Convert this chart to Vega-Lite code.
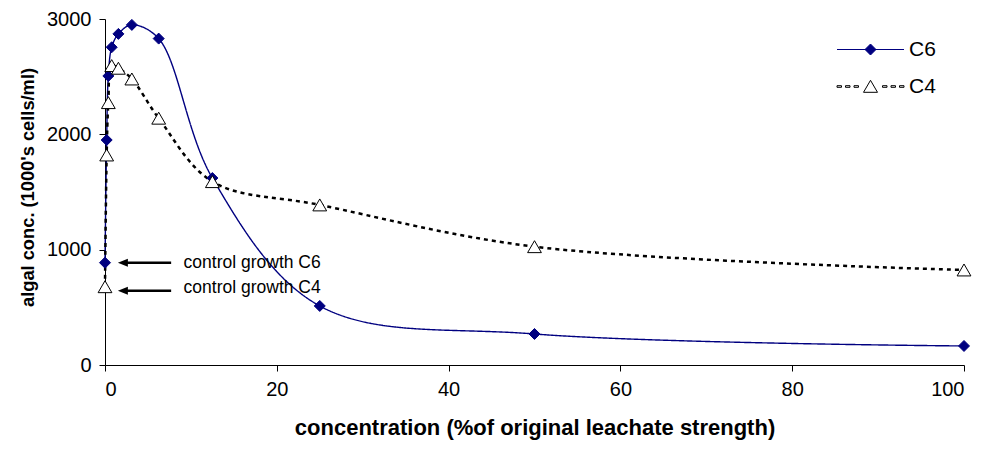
{
  "$schema": "https://vega.github.io/schema/vega-lite/v6.json",
  "width": 859,
  "height": 346,
  "autosize": "none",
  "padding": {"left": 105, "top": 19, "right": 23, "bottom": 85},
  "background": "white",
  "config": {
    "view": {"stroke": null},
    "font": "Liberation Sans",
    "axis": {"grid": false, "domainColor": "black", "tickColor": "black", "labelColor": "black", "titleColor": "black", "domainWidth": 1, "tickWidth": 1}
  },
  "resolve": {"scale": {"shape": "independent", "fill": "independent", "stroke": "independent"}},
  "datasets": {
    "measurements": [
      {"series": "C6", "concentration": 0, "algae": 887},
      {"series": "C6", "concentration": 0.195, "algae": 1951},
      {"series": "C6", "concentration": 0.39, "algae": 2506},
      {"series": "C6", "concentration": 0.78, "algae": 2755},
      {"series": "C6", "concentration": 1.56, "algae": 2871},
      {"series": "C6", "concentration": 3.125, "algae": 2949},
      {"series": "C6", "concentration": 6.25, "algae": 2830},
      {"series": "C6", "concentration": 12.5, "algae": 1621},
      {"series": "C6", "concentration": 25, "algae": 512},
      {"series": "C6", "concentration": 50, "algae": 269},
      {"series": "C6", "concentration": 100, "algae": 165},
      {"series": "C4", "concentration": 0, "algae": 679},
      {"series": "C4", "concentration": 0.195, "algae": 1821},
      {"series": "C4", "concentration": 0.39, "algae": 2275},
      {"series": "C4", "concentration": 0.78, "algae": 2596},
      {"series": "C4", "concentration": 1.56, "algae": 2573},
      {"series": "C4", "concentration": 3.125, "algae": 2480},
      {"series": "C4", "concentration": 6.25, "algae": 2140},
      {"series": "C4", "concentration": 12.5, "algae": 1590},
      {"series": "C4", "concentration": 25, "algae": 1388},
      {"series": "C4", "concentration": 50, "algae": 1026},
      {"series": "C4", "concentration": 100, "algae": 824}
    ],
    "annotations": [
      {"label": "control growth C6", "tip": 1.5, "shaftStart": 2.2, "shaftEnd": 7.7, "arrowY": 887, "textX": 9.15, "textY": 881},
      {"label": "control growth C4", "tip": 1.5, "shaftStart": 2.2, "shaftEnd": 7.7, "arrowY": 644, "textX": 9.15, "textY": 665}
    ]
  },
  "layer": [
    {
      "data": {"name": "measurements"},
      "mark": {"type": "line", "interpolate": "catmull-rom"},
      "encoding": {
        "x": {
          "field": "concentration", "type": "quantitative",
          "scale": {"domain": [0, 100], "nice": false, "zero": false},
          "axis": {
            "title": "concentration (%of original leachate strength)",
            "values": [0, 20, 40, 60, 80, 100],
            "format": "d",
            "tickSize": 6,
            "labelFontSize": 20,
            "labelPadding": 8,
            "titleFontSize": 22,
            "titleFontWeight": "bold",
            "titlePadding": 18
          }
        },
        "y": {
          "field": "algae", "type": "quantitative",
          "scale": {"domain": [0, 3000], "nice": false},
          "axis": {
            "title": "algal conc. (1000's cells/ml)",
            "values": [0, 1000, 2000, 3000],
            "format": "d",
            "tickSize": 6,
            "labelFontSize": 20,
            "labelPadding": 8,
            "titleFontSize": 18.3,
            "titleFontWeight": "bold",
            "titlePadding": 9,
            "titleY": 168
          }
        },
        "color": {"field": "series", "type": "nominal", "scale": {"domain": ["C6", "C4"], "range": ["#000080", "black"]}, "legend": null},
        "strokeDash": {"field": "series", "type": "nominal", "scale": {"domain": ["C6", "C4"], "range": [[1, 0], [4, 4]]}, "legend": null},
        "strokeWidth": {"field": "series", "type": "nominal", "scale": {"domain": ["C6", "C4"], "range": [1.4, 2.5]}, "legend": null}
      }
    },
    {
      "data": {"name": "measurements"},
      "mark": {"type": "point", "opacity": 1, "strokeWidth": 1},
      "encoding": {
        "x": {"field": "concentration", "type": "quantitative"},
        "y": {"field": "algae", "type": "quantitative"},
        "shape": {"field": "series", "type": "nominal", "scale": {"domain": ["C6", "C4"], "range": ["diamond", "triangle-up"]}, "legend": null},
        "fill": {"condition": {"test": "datum.series === 'C6'", "value": "#000080"}, "value": "white"},
        "stroke": {"condition": {"test": "datum.series === 'C6'", "value": "#000080"}, "value": "black"},
        "size": {"condition": {"test": "datum.series === 'C6'", "value": 121}, "value": 190}
      }
    },
    {
      "data": {"name": "measurements"},
      "transform": [{"filter": "false"}],
      "mark": {"type": "point", "opacity": 1, "strokeWidth": 1, "size": 400},
      "encoding": {
        "x": {"field": "concentration", "type": "quantitative"},
        "y": {"field": "algae", "type": "quantitative"},
        "shape": {
          "field": "series", "type": "nominal",
          "scale": {"domain": ["C6", "C4"], "range": [
            "M-3.35,0H3.35M-0.55,0L0,-0.55L0.55,0L0,0.55Z",
            "M-3.35,-0.08H-2.9V0.08H-3.35ZM-2.5,-0.08H-2.05V0.08H-2.5ZM-1.65,-0.08H-1.2V0.08H-1.65ZM1.2,-0.08H1.65V0.08H1.2ZM2.05,-0.08H2.5V0.08H2.05ZM2.9,-0.08H3.35V0.08H2.9ZM0,-0.62L-0.7,0.58L0.7,0.58Z"
          ]},
          "legend": {
            "orient": "none",
            "legendX": 755,
            "legendY": 20,
            "title": null,
            "symbolSize": 400,
            "symbolStrokeWidth": 1,
            "labelFontSize": 21,
            "labelColor": "black",
            "labelOffset": 28,
            "rowPadding": 15
          }
        },
        "fill": {
          "field": "series", "type": "nominal",
          "scale": {"domain": ["C6", "C4"], "range": ["#000080", "white"]},
          "legend": {"orient": "none", "legendX": 755, "legendY": 20, "title": null, "symbolSize": 400, "labelFontSize": 21, "labelOffset": 28, "rowPadding": 15}
        },
        "stroke": {
          "field": "series", "type": "nominal",
          "scale": {"domain": ["C6", "C4"], "range": ["#000080", "black"]},
          "legend": {"orient": "none", "legendX": 755, "legendY": 20, "title": null, "symbolSize": 400, "labelFontSize": 21, "labelOffset": 28, "rowPadding": 15}
        }
      }
    },
    {
      "data": {"name": "annotations"},
      "mark": {"type": "rule", "color": "black", "strokeWidth": 2.5},
      "encoding": {
        "x": {"field": "shaftStart", "type": "quantitative"},
        "x2": {"field": "shaftEnd"},
        "y": {"field": "arrowY", "type": "quantitative"}
      }
    },
    {
      "data": {"name": "annotations"},
      "mark": {"type": "point", "shape": "M0,0L2,-0.8L2,0.8Z", "size": 100, "filled": true, "color": "black", "opacity": 1},
      "encoding": {
        "x": {"field": "tip", "type": "quantitative"},
        "y": {"field": "arrowY", "type": "quantitative"}
      }
    },
    {
      "data": {"name": "annotations"},
      "mark": {"type": "text", "align": "left", "baseline": "middle", "fontSize": 17.5, "font": "Liberation Sans", "color": "black"},
      "encoding": {
        "x": {"field": "textX", "type": "quantitative"},
        "y": {"field": "textY", "type": "quantitative"},
        "text": {"field": "label"}
      }
    }
  ]
}
